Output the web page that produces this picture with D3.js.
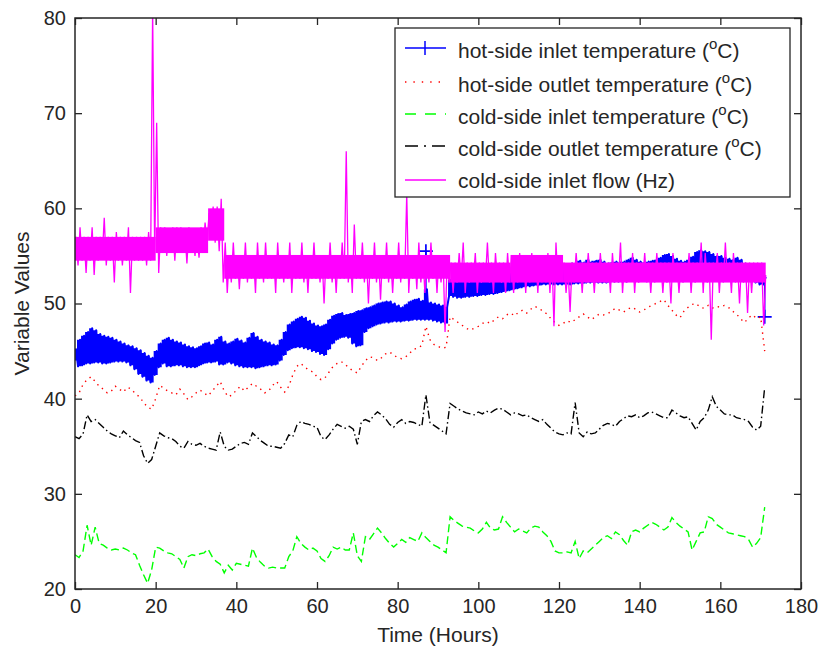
<!DOCTYPE html>
<html><head><meta charset="utf-8">
<script src="https://cdn.jsdelivr.net/npm/d3@7"></script>
<style>
html,body{margin:0;padding:0;background:#fff;}
svg text{font-family:"Liberation Sans",Arial,Helvetica,sans-serif;fill:#262626;}
</style></head>
<body><svg id="c" width="822" height="651"></svg>
<script>
const xTicks=[0,20,40,60,80,100,120,140,160,180];
const yTicks=[20,30,40,50,60,70,80];
const hours=d3.range(0,172);
const seriesNames=["hot-side inlet temperature (","hot-side outlet temperature (","cold-side inlet temperature (","cold-side outlet temperature (","cold-side inlet flow (Hz)"];

const hotInletHi=[45.2,46.2,46.6,47.0,47.4,47.2,46.8,46.6,46.5,46.4,
46.2,46.0,45.8,45.6,45.5,45.3,45.1,44.8,44.5,44.3,
45.0,45.8,46.2,46.4,46.2,46.0,45.9,45.7,45.5,45.4,
45.3,45.5,45.8,45.9,45.7,46.2,46.5,46.0,45.8,46.0,
46.3,46.1,45.9,46.4,46.9,46.5,46.2,46.0,45.9,45.7,
45.6,46.2,47.0,47.8,48.1,48.4,48.6,48.5,48.2,47.9,
47.7,47.6,47.8,48.3,48.7,48.9,49.0,48.8,48.9,49.0,
49.2,49.3,49.5,49.6,49.8,50.0,50.1,50.2,50.2,50.0,
49.8,49.6,49.9,50.2,50.4,50.5,50.3,51.5,50.1,50.0,
49.9,49.8,49.6,52.5,53.0,53.2,53.3,53.4,53.5,53.5,
53.5,53.5,53.6,53.5,53.5,53.6,53.6,53.7,53.7,53.8,
53.8,53.8,53.9,53.8,53.9,53.9,54.0,53.9,54.0,54.0,
54.0,54.0,54.1,54.2,54.2,54.5,54.3,54.6,54.4,54.5,
54.6,54.4,54.2,54.3,54.4,54.3,54.4,54.6,54.8,54.6,
54.4,54.3,54.4,54.5,54.6,54.8,55.1,55.2,55.0,54.7,
54.5,54.4,54.6,54.9,55.4,55.6,55.5,55.4,55.2,55.0,
55.0,54.8,54.7,54.6,54.8,54.6,54.2,53.8,53.5,53.3,
53.0,52.8];
const hotInletLo=[44.0,43.4,43.5,43.7,43.7,43.8,43.8,43.7,43.7,43.8,
43.9,43.9,43.9,43.8,43.5,43.1,42.6,42.3,41.9,41.7,
42.5,43.3,43.7,43.4,43.4,43.5,43.5,43.4,43.3,43.3,
43.3,43.5,43.7,43.8,43.8,43.9,43.6,43.6,43.8,43.7,
43.5,43.4,43.3,43.3,43.3,43.2,43.3,43.4,43.5,43.5,
43.6,44.0,44.6,45.1,45.3,45.4,45.4,45.3,45.2,45.0,
44.9,44.7,44.6,45.2,45.8,46.2,46.4,46.5,46.4,45.8,
45.5,45.6,47.0,47.4,47.6,47.8,47.9,48.0,48.0,48.1,
48.1,48.1,48.2,48.2,48.3,48.3,48.3,48.3,48.3,48.2,
48.1,48.0,47.9,50.8,50.7,50.6,50.6,50.7,50.7,50.8,
50.8,50.9,50.9,51.0,51.0,51.1,51.2,51.3,51.4,51.5,
51.6,51.7,51.8,51.8,51.9,51.9,52.0,52.0,52.0,52.0,
52.0,52.0,52.0,52.0,52.1,52.1,52.1,52.2,52.2,52.2,
52.2,52.2,52.2,52.3,52.3,52.3,52.3,52.3,52.4,52.4,
52.4,52.4,52.4,52.5,52.5,52.5,52.6,52.6,52.6,52.6,
52.6,52.6,52.6,52.7,52.7,52.7,52.7,52.7,52.7,52.7,
52.7,52.7,52.6,52.6,52.5,52.5,52.4,52.4,52.3,52.2,
52.0,52.0];
const hotInletMarkT=[87,171];
const hotInletMarkV=[55.5,48.6];

const hotOutlet=[40.3,40.6,41.5,42.0,42.3,41.8,41.3,41.0,40.6,40.8,
41.3,41.0,40.7,41.2,41.0,40.5,40.2,39.6,39.1,38.9,
40.0,41.4,41.1,40.8,40.6,40.4,41.0,40.5,39.9,40.2,
40.6,40.9,40.6,40.3,40.8,41.3,41.8,40.8,40.2,40.4,
40.9,41.3,40.8,41.2,41.6,41.3,41.0,40.6,40.8,41.4,
41.8,41.2,40.7,41.3,42.5,43.4,43.7,43.3,43.0,42.8,
42.3,42.0,42.2,42.8,43.4,43.7,43.9,43.6,43.2,42.9,
42.7,43.4,44.0,44.4,44.3,44.0,44.3,44.7,44.9,44.6,
44.3,44.2,44.4,44.8,45.2,45.3,45.6,47.6,46.2,45.7,
45.5,45.3,45.4,48.6,48.3,48.0,47.7,47.4,47.2,47.4,
47.6,47.9,48.1,47.9,48.3,48.6,48.4,48.8,49.0,48.7,
49.1,49.3,49.0,49.4,49.7,49.5,49.2,48.9,48.4,48.0,
47.7,47.9,48.2,48.0,48.3,48.6,48.9,48.6,48.3,48.6,
48.9,48.8,48.9,49.2,49.5,49.3,49.1,49.4,49.6,49.4,
49.1,49.3,49.6,49.8,50.0,50.2,50.4,49.8,49.3,48.8,
48.5,49.2,49.6,49.9,50.0,49.6,49.5,49.8,49.5,49.7,
49.6,49.8,49.6,49.2,48.9,48.4,48.0,48.5,48.8,48.4,
48.6,45.0];

const coldInlet=[23.6,23.3,24.0,26.7,24.6,26.5,24.8,24.6,24.3,24.1,
24.2,24.1,24.3,24.1,23.8,23.6,22.5,21.5,20.6,22.0,
24.4,24.3,24.0,23.8,23.7,23.4,23.1,22.2,23.4,23.6,
23.5,23.7,23.8,24.2,23.4,22.9,22.6,21.7,22.5,22.0,
22.7,22.6,22.5,22.4,24.3,23.3,22.8,22.4,22.2,22.3,
22.2,22.2,22.2,23.4,24.0,25.5,24.8,24.4,24.1,24.3,
24.0,23.2,22.9,23.5,24.4,24.2,24.4,24.1,24.1,25.9,
23.5,22.9,25.5,25.2,25.8,26.4,25.9,25.3,24.8,24.4,
24.8,25.2,24.9,25.4,25.2,25.0,25.9,25.4,25.0,24.6,
24.4,24.1,23.8,27.6,27.2,26.9,26.6,26.5,26.4,26.1,
25.9,26.3,27.0,26.4,26.2,26.3,27.6,27.0,26.5,26.0,
26.3,26.1,25.9,26.4,26.6,26.5,26.0,25.6,25.0,24.0,
23.8,23.8,23.9,23.8,25.0,23.2,24.0,23.8,24.2,24.6,
25.0,25.4,25.6,25.3,26.0,25.7,25.1,24.6,26.0,26.2,
26.0,26.4,26.7,27.0,26.8,26.5,26.2,26.5,27.5,27.0,
26.6,26.3,26.0,24.1,25.0,25.9,26.0,27.6,27.4,26.8,
26.5,26.2,25.9,25.8,25.7,25.6,25.5,25.2,24.4,24.8,
25.4,28.6];

const coldOutlet=[36.0,35.8,36.3,38.3,37.6,37.8,37.4,37.0,36.6,36.3,
36.1,35.9,36.6,36.2,35.9,35.6,35.4,34.0,33.2,33.6,
35.0,36.4,36.1,35.9,35.8,35.5,35.0,34.8,35.5,35.2,
35.1,35.3,35.0,34.8,34.7,34.6,36.5,35.0,34.6,34.7,
35.0,35.3,35.4,35.2,36.4,36.0,35.6,35.3,35.0,35.0,
34.9,34.8,35.3,36.2,36.0,37.2,37.6,37.4,37.3,37.1,
37.0,36.0,35.7,36.2,36.8,37.3,37.1,36.9,37.1,36.8,
35.2,37.6,37.8,37.6,38.2,38.6,38.3,37.9,37.3,37.0,
37.5,37.8,37.4,37.6,37.5,37.3,37.1,40.4,37.5,37.2,
36.9,36.6,36.3,39.5,39.2,38.9,38.7,38.5,38.4,38.3,
38.6,38.4,38.7,38.5,38.8,39.0,38.9,38.6,38.3,38.5,
38.4,38.2,38.3,38.0,37.8,37.6,37.8,37.3,36.9,36.5,
36.3,36.2,36.4,36.3,39.6,36.4,36.0,36.5,36.3,36.4,
36.8,37.2,37.4,37.3,37.1,37.6,37.9,38.2,38.1,38.3,
38.0,38.2,38.5,38.6,38.4,38.2,38.0,38.0,38.8,38.5,
38.2,38.0,38.1,37.4,36.7,37.6,38.0,38.8,40.2,39.2,
38.8,38.4,38.3,38.3,38.0,37.9,37.8,37.6,37.0,36.7,
37.1,41.2];

const flowHi=[57.0,58.0,57.0,57.0,58.0,57.0,57.0,59.0,57.0,57.0,
57.5,57.0,57.0,58.0,57.0,57.0,57.0,57.0,57.5,81.0,
69.0,58.0,58.0,57.5,58.0,58.0,58.0,57.5,58.0,57.5,
57.5,58.0,58.5,59.5,60.2,60.2,61.0,56.4,55.1,56.4,
55.1,55.1,56.4,55.1,55.1,56.4,55.1,56.4,55.1,55.1,
56.4,55.1,55.1,56.4,55.1,55.1,56.4,55.1,55.1,56.4,
55.1,55.1,55.1,56.4,55.1,55.1,56.4,66.0,55.1,58.3,
55.1,56.4,55.1,55.1,56.4,55.1,55.1,56.4,55.1,55.1,
56.4,55.1,61.5,55.1,55.1,56.4,55.1,55.1,56.4,55.1,
55.1,55.1,54.3,54.3,54.3,55.3,56.4,54.3,54.3,55.3,
54.3,54.3,56.4,54.3,55.3,54.3,54.3,55.3,55.1,55.1,
55.3,55.1,55.1,55.3,55.1,55.1,55.1,55.3,55.1,56.4,
55.1,54.3,53.6,54.3,55.3,54.3,54.3,55.3,54.3,54.3,
55.3,54.3,54.3,55.3,54.3,56.4,54.3,54.3,55.3,54.3,
54.3,55.3,54.3,54.3,55.3,54.3,54.3,54.3,55.3,54.3,
54.3,54.3,55.3,54.3,54.3,56.4,55.3,54.3,54.3,55.3,
54.3,56.4,54.3,55.3,54.3,54.3,54.3,54.3,54.3,54.3,
54.3,53.0];
const flowLo=[54.5,54.0,54.5,53.2,54.5,53.0,54.5,54.8,54.0,54.5,
52.2,54.5,54.0,54.5,51.1,54.5,54.5,54.5,54.0,54.5,
55.3,53.2,55.3,55.0,55.3,54.5,55.3,55.3,54.2,55.3,
55.0,54.8,55.3,56.5,57.0,56.4,55.5,52.2,51.1,52.2,
52.6,51.5,52.6,52.2,52.6,51.1,52.6,52.2,52.6,52.6,
51.1,52.6,52.2,52.6,51.1,52.6,52.6,52.2,51.1,52.6,
52.6,52.2,50.0,52.6,52.2,51.1,52.6,52.6,52.2,51.1,
52.6,52.6,52.2,50.0,52.6,52.2,50.4,52.6,52.2,51.1,
52.6,52.2,52.6,51.1,52.6,51.5,52.2,51.1,52.2,52.6,
51.1,52.2,47.0,52.2,51.1,52.2,52.4,51.1,52.2,52.4,
51.1,52.2,52.4,52.2,51.1,52.4,52.2,51.1,52.2,51.1,
52.2,52.4,51.1,52.2,52.4,51.1,52.2,52.2,51.1,47.6,
52.2,52.4,51.1,49.1,52.2,52.4,51.1,52.2,52.4,51.1,
52.2,52.4,52.2,51.1,52.2,52.4,51.1,52.2,52.4,51.1,
52.2,52.4,52.2,51.1,52.2,52.4,51.1,52.2,50.0,52.4,
51.1,52.2,52.4,51.1,52.2,52.4,51.1,52.2,46.2,52.4,
51.1,52.2,52.4,51.1,52.2,50.0,52.2,49.0,51.1,52.2,
52.4,47.7];
// solid body of the flow band, by time segment
const flowBandT=[0,20,33,37,93,108,121,171.25];
const flowBandLo=[54.5,55.3,56.6,52.6,52.2,52.2,52.2];
const flowBandHi=[57.0,58.0,60.0,55.1,54.3,55.1,54.3];

const svg=d3.select("#c");
const L=75,R=801,T=18,B=589;
const x=d3.scaleLinear().domain([0,180]).range([L,R]);
const y=d3.scaleLinear().domain([20,80]).range([B,T]);

svg.append("defs").append("clipPath").attr("id","clip")
  .append("rect").attr("x",L).attr("y",T).attr("width",R-L).attr("height",B-T);

const plot=svg.append("g").attr("clip-path","url(#clip)");

function zig(lo,hi){
  const pts=[];
  hours.forEach((h,i)=>{pts.push([h-0.25,lo[i]]);pts.push([h+0.25,hi[i]]);});
  return pts;
}
const line=d3.line().x(d=>x(d[0])).y(d=>y(d[1]));

const blue="#0000ff", red="#ff0000", green="#00ff00", black="#000000", mag="#ff00ff";

// hot-side inlet (dense '+' markers => solid band)
plot.append("path").datum(hours)
  .attr("d",d3.area().x(h=>x(h)).y0((h,i)=>y(hotInletLo[i])).y1((h,i)=>y(hotInletHi[i])).curve(d3.curveStep))
  .attr("fill",blue);
plot.append("path").attr("d",line(zig(hotInletLo,hotInletHi)))
  .attr("fill","none").attr("stroke",blue).attr("stroke-width",2).attr("stroke-linejoin","round");
hotInletMarkT.forEach((t,i)=>{
  const v=hotInletMarkV[i];
  const from=v>hotInletHi[t]?hotInletHi[t]:hotInletLo[t];
  const cx=x(t),cy=y(v);
  plot.append("line").attr("x1",cx).attr("x2",cx).attr("y1",y(from)).attr("y2",cy)
    .attr("stroke",blue).attr("stroke-width",1.5);
  plot.append("path").attr("d",`M${cx-7},${cy}H${cx+7}M${cx},${cy-7}V${cy+7}`)
    .attr("stroke",blue).attr("stroke-width",1.7);
});
const pts=a=>hours.map((h,i)=>[h,a[i]]);
plot.append("path").attr("d",line(pts(hotOutlet))).attr("fill","none")
  .attr("stroke",red).attr("stroke-width",1.4).attr("stroke-dasharray","1.4,4.5");
plot.append("path").attr("d",line(pts(coldInlet))).attr("fill","none")
  .attr("stroke",green).attr("stroke-width",1.4).attr("stroke-dasharray","8,4");
plot.append("path").attr("d",line(pts(coldOutlet))).attr("fill","none")
  .attr("stroke",black).attr("stroke-width",1.4).attr("stroke-dasharray","8,3,1.5,3");
// cold-side inlet flow: solid body + spiky trace
const bandPts=flowBandLo.map((v,i)=>({t0:flowBandT[i],t1:flowBandT[i+1],lo:v,hi:flowBandHi[i]}));
plot.selectAll("rect.band").data(bandPts).join("rect").attr("class","band")
  .attr("x",d=>x(d.t0)).attr("width",d=>x(d.t1)-x(d.t0))
  .attr("y",d=>y(d.hi)).attr("height",d=>y(d.lo)-y(d.hi)).attr("fill",mag);
plot.append("path").attr("d",line(zig(flowLo,flowHi))).attr("fill","none")
  .attr("stroke",mag).attr("stroke-width",1.3).attr("stroke-linejoin","bevel");

// axes
const tk=7;
const gx=svg.append("g").attr("transform",`translate(0,${B})`)
  .call(d3.axisBottom(x).tickValues(xTicks).tickSizeInner(-tk).tickSizeOuter(0).tickPadding(10));
const gy=svg.append("g").attr("transform",`translate(${L},0)`)
  .call(d3.axisLeft(y).tickValues(yTicks).tickSizeInner(-tk).tickSizeOuter(0).tickPadding(9));
const gt=svg.append("g").attr("transform",`translate(0,${T})`)
  .call(d3.axisTop(x).tickValues(xTicks).tickSizeInner(-tk).tickSizeOuter(0).tickFormat(""));
const gr=svg.append("g").attr("transform",`translate(${R},0)`)
  .call(d3.axisRight(y).tickValues(yTicks).tickSizeInner(-tk).tickSizeOuter(0).tickFormat(""));
[gx,gy,gt,gr].forEach(g=>{
  g.select(".domain").remove();
  g.selectAll("line").attr("stroke","#262626").attr("stroke-width",1.3);
  g.selectAll("text").style("font-size","20px").attr("fill","#262626");
});
svg.append("rect").attr("x",L).attr("y",T).attr("width",R-L).attr("height",B-T)
  .attr("fill","none").attr("stroke","#262626").attr("stroke-width",1.5);

svg.append("text").attr("x",(L+R)/2).attr("y",642).attr("text-anchor","middle")
  .style("font-size","21px").text("Time (Hours)");
svg.append("text").attr("transform",`translate(29,${(T+B)/2}) rotate(-90)`).attr("text-anchor","middle")
  .style("font-size","21px").text("Variable Values");

// legend
const lg=svg.append("g");
lg.append("rect").attr("x",395).attr("y",28).attr("width",395).attr("height",169)
  .attr("fill","#fff").attr("stroke","#262626").attr("stroke-width",1.3);
const rowY=[50,84,116,148,180];
const styles=[
  {c:blue,d:null,w:1.5},{c:red,d:"1.4,7",w:1.4},{c:green,d:"11,9",w:1.5},{c:black,d:"13,6,2,6",w:1.5},{c:mag,d:null,w:1.5}];
seriesNames.forEach((nm,i)=>{
  const yy=rowY[i];
  const s=styles[i];
  const ly=i<4?yy-2:yy;
  const p=lg.append("line").attr("x1",405).attr("x2",446).attr("y1",ly).attr("y2",ly)
    .attr("stroke",s.c).attr("stroke-width",s.w);
  if(s.d)p.attr("stroke-dasharray",s.d);
  if(i===0)lg.append("line").attr("x1",425).attr("x2",425).attr("y1",ly-7).attr("y2",ly+7).attr("stroke",blue).attr("stroke-width",1.5);
  const t=lg.append("text").attr("x",458).attr("y",yy+8).style("font-size","21px");
  t.append("tspan").text(nm);
  if(i<4){
    t.append("tspan").attr("dy",-9).style("font-size","15px").text("o");
    t.append("tspan").attr("dy",9).text("C)");
  }
});
</script></body></html>
